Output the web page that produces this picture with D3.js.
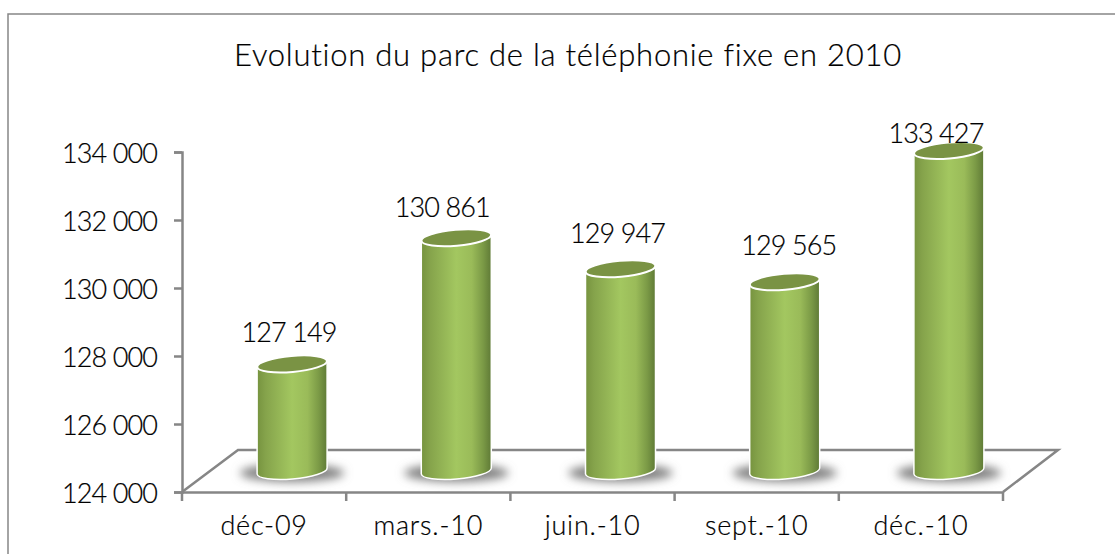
<!DOCTYPE html>
<html>
<head>
<meta charset="utf-8">
<script src="https://cdnjs.cloudflare.com/ajax/libs/d3/7.8.5/d3.min.js"></script>
<style>
  html, body { margin: 0; padding: 0; background: #fff; }
  svg { display: block; }
  text { font-family: "Lato", "Open Sans", sans-serif; font-weight: 300; fill: #000; stroke: #000; stroke-width: 0.2; }
</style>
</head>
<body>
<svg id="chart" width="1115" height="554"></svg>
<script>
const categories = ["déc-09", "mars.-10", "juin.-10", "sept.-10", "déc.-10"];
const values = [127149, 130861, 129947, 129565, 133427];
const yTicks = [124000, 126000, 128000, 130000, 132000, 134000];

const svg = d3.select("#chart");
const grey = "#868686";

// plot area of the front axis, the floor sits up and to the right of it
const x0 = 182, x1 = 1003, yBottom = 492, yTop = 152;
const depthX = 56, depthY = 42;
// the columns stand in the middle of the floor
const shiftX = 28, shiftY = 21;
const barWidth = 70, rx = 35, ry = 8, tilt = -5;

const xScale = d3.scaleBand().domain(categories).range([x0, x1]);
const yScale = d3.scaleLinear().domain([124000, 134000]).range([yBottom, yTop]);
const fmt = v => d3.format(",")(v).replace(/,/g, " ");

// data labels were moved by hand in the original, so they are not centred
const labelNudge = [[-3, -22], [-14, -21], [-3, -26], [4, -27], [-13, -7]];

const defs = svg.append("defs");
const grad = defs.append("linearGradient").attr("id", "cyl");
[[0, "#76933f"], [0.12, "#85a34b"], [0.5, "#a3c760"], [0.72, "#9abb59"], [0.88, "#7b9a46"], [1, "#5f7a36"]]
  .forEach(s => grad.append("stop").attr("offset", s[0]).attr("stop-color", s[1]));
defs.append("filter").attr("id", "blur")
  .attr("x", "-30%").attr("y", "-80%").attr("width", "160%").attr("height", "260%")
  .append("feGaussianBlur").attr("stdDeviation", 5);

// outer frame, only the top and left edges are inside the picture
svg.append("path")
  .attr("d", "M8,554V14H1115")
  .attr("fill", "none").attr("stroke", grey).attr("stroke-width", 1.5);

svg.append("text")
  .attr("x", 568).attr("y", 66)
  .attr("text-anchor", "middle")
  .attr("font-size", 31)
  .attr("letter-spacing", 0.75)
  .text("Evolution du parc de la téléphonie fixe en 2010");

// floor
svg.append("path")
  .attr("d", `M${x0},${yBottom}L${x0 + depthX},${yBottom - depthY}H${x1 + depthX - 1}L${x1},${yBottom}`)
  .attr("fill", "none").attr("stroke", grey).attr("stroke-width", 2.5);

const yAxis = svg.append("g")
  .attr("transform", `translate(${x0},0)`)
  .call(d3.axisLeft(yScale).tickValues(yTicks).tickFormat(fmt).tickSize(8).tickPadding(17));

const xAxis = svg.append("g")
  .attr("transform", `translate(0,${yBottom})`)
  .call(d3.axisBottom(xScale).tickSize(0).tickPadding(24));

svg.append("g").selectAll("line")
  .data(d3.range(categories.length + 1))
  .enter().append("line")
  .attr("x1", i => x0 + i * xScale.step())
  .attr("x2", i => x0 + i * xScale.step())
  .attr("y1", yBottom).attr("y2", yBottom + 9)
  .attr("stroke", grey).attr("stroke-width", 2.5);

[yAxis, xAxis].forEach(a => {
  a.selectAll("path.domain, line").attr("stroke", grey).attr("stroke-width", 2.5);
  a.selectAll("text").attr("fill", "#000").attr("font-family", "Lato").attr("font-size", 27);
});
yAxis.selectAll("text").attr("letter-spacing", -0.9).attr("y", 2);
xAxis.selectAll("text").attr("letter-spacing", 0.8);

const bars = svg.append("g").selectAll("g")
  .data(values)
  .enter().append("g")
  .attr("transform", (d, i) => `translate(${xScale(categories[i]) + xScale.bandwidth() / 2 + shiftX},0)`);

bars.append("ellipse")
  .attr("cx", 0).attr("cy", yBottom - shiftY + 2)
  .attr("rx", 52).attr("ry", 9)
  .attr("fill", "#808080")
  .attr("filter", "url(#blur)");

// cylinder body, the ellipses are tilted so both ends drop on the left
const dy = rx * Math.sin(-tilt * Math.PI / 180);
bars.append("path")
  .attr("d", (d) => {
    const top = yScale(d) - shiftY, bot = yBottom - shiftY;
    return `M${-barWidth / 2},${top + dy}` +
      `V${bot + dy}` +
      `A${rx},${ry} ${tilt} 0 0 ${barWidth / 2},${bot - dy}` +
      `V${top - dy}Z`;
  })
  .attr("fill", "url(#cyl)")
  .attr("stroke", "#fff").attr("stroke-width", 1.5);

bars.append("ellipse")
  .attr("transform", d => `translate(0,${yScale(d) - shiftY}) rotate(${tilt})`)
  .attr("rx", rx).attr("ry", ry)
  .attr("fill", "#7a9344")
  .attr("stroke", "#fff").attr("stroke-width", 2);

bars.append("text")
  .attr("x", (d, i) => labelNudge[i][0])
  .attr("y", (d, i) => yScale(d) - shiftY + labelNudge[i][1])
  .attr("text-anchor", "middle")
  .attr("font-size", 27)
  .attr("letter-spacing", -0.9)
  .text(fmt);
</script>
</body>
</html>
